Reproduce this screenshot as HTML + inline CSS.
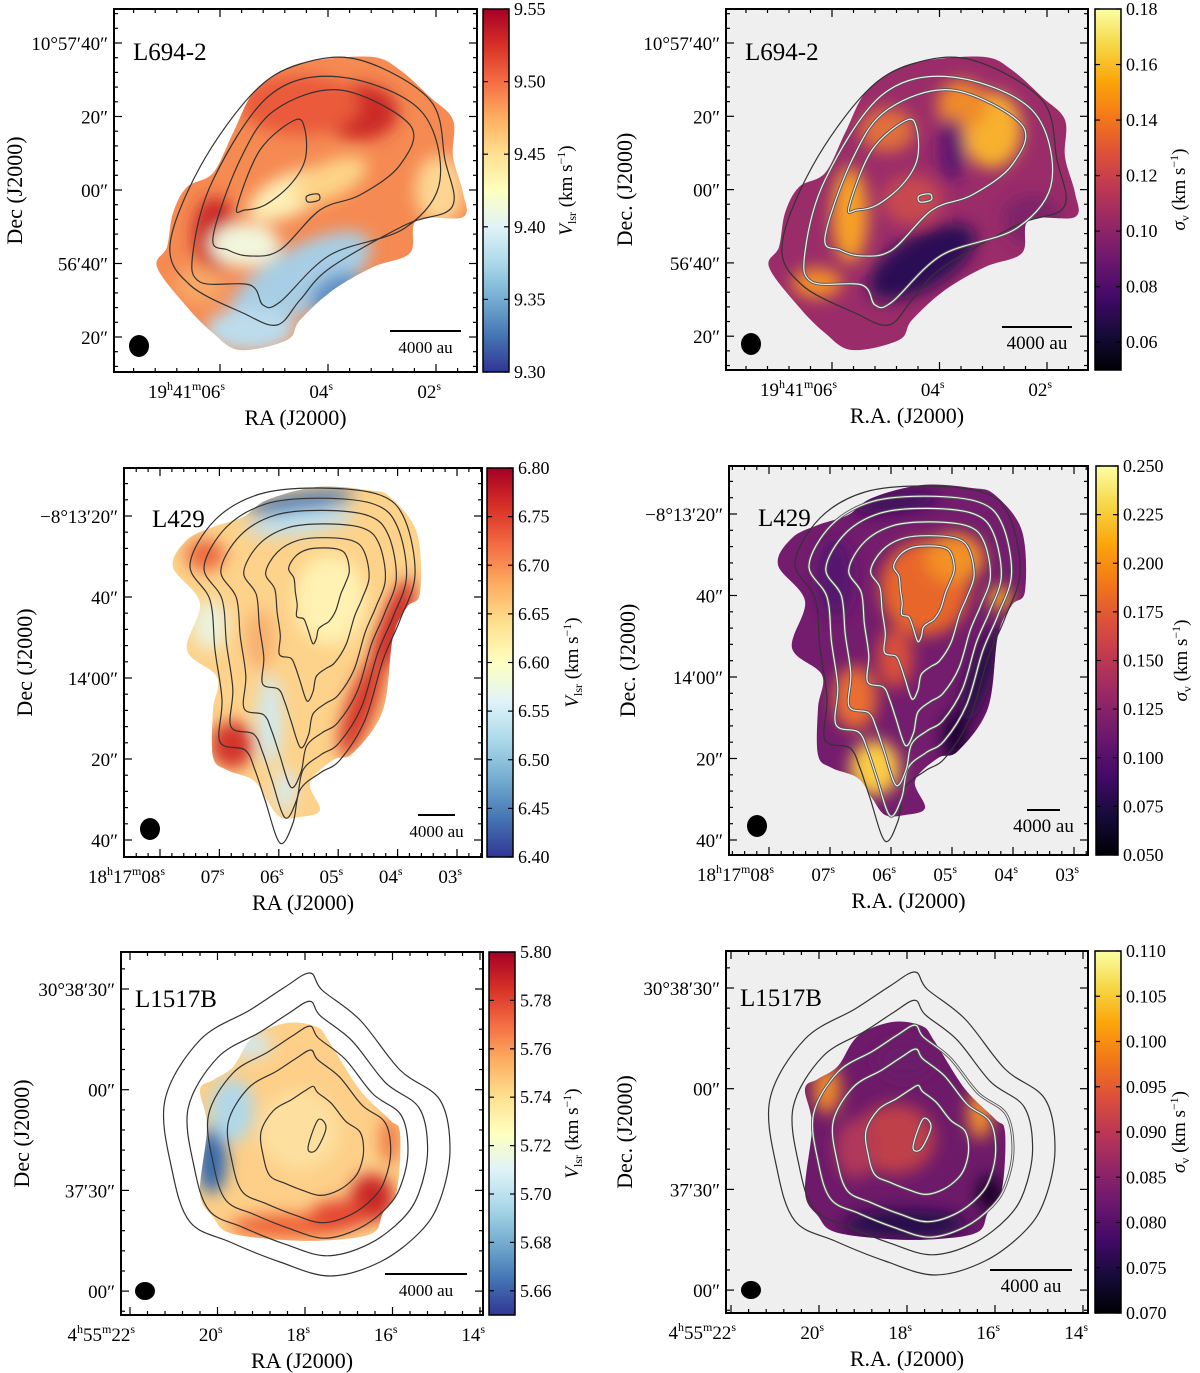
<!DOCTYPE html>
<html><head><meta charset="utf-8"><style>
html,body{margin:0;padding:0;background:#fff;}
svg{display:block;font-family:"Liberation Serif",serif;}
</style></head><body>
<svg id="fig" width="1200" height="1373" viewBox="0 0 1200 1373" xmlns="http://www.w3.org/2000/svg">
<defs>
<linearGradient id="rdylbu" x1="0" y1="1" x2="0" y2="0">
<stop offset="0" stop-color="#313695"/><stop offset="0.1" stop-color="#4575b4"/><stop offset="0.2" stop-color="#74add1"/><stop offset="0.3" stop-color="#abd9e9"/><stop offset="0.4" stop-color="#e0f3f8"/><stop offset="0.5" stop-color="#ffffbf"/><stop offset="0.6" stop-color="#fee090"/><stop offset="0.7" stop-color="#fdae61"/><stop offset="0.8" stop-color="#f46d43"/><stop offset="0.9" stop-color="#d73027"/><stop offset="1" stop-color="#a50026"/>
</linearGradient>
<linearGradient id="inferno" x1="0" y1="1" x2="0" y2="0">
<stop offset="0" stop-color="#000004"/><stop offset="0.1" stop-color="#160b39"/><stop offset="0.2" stop-color="#420a68"/><stop offset="0.3" stop-color="#6a176e"/><stop offset="0.4" stop-color="#932667"/><stop offset="0.5" stop-color="#bc3754"/><stop offset="0.6" stop-color="#dd513a"/><stop offset="0.7" stop-color="#f37819"/><stop offset="0.8" stop-color="#fca50a"/><stop offset="0.9" stop-color="#f6d746"/><stop offset="1" stop-color="#fcffa4"/>
</linearGradient>
<filter id="blur" x="-50%" y="-50%" width="200%" height="200%"><feGaussianBlur stdDeviation="8"/></filter>
</defs>
</svg>
<script>
// ---- colorbar data ----
const cbTicksL694V = [9.30, 9.35, 9.40, 9.45, 9.50, 9.55];
const cbRangeL694V = [9.30, 9.55];
const cbTicksL694S = [0.06, 0.08, 0.10, 0.12, 0.14, 0.16, 0.18];
const cbRangeL694S = [0.05, 0.18];
const cbTicksL429V = [6.40, 6.45, 6.50, 6.55, 6.60, 6.65, 6.70, 6.75, 6.80];
const cbRangeL429V = [6.40, 6.80];
const cbTicksL429S = [0.050, 0.075, 0.100, 0.125, 0.150, 0.175, 0.200, 0.225, 0.250];
const cbRangeL429S = [0.050, 0.250];
const cbTicksL1517V = [5.66, 5.68, 5.70, 5.72, 5.74, 5.76, 5.78, 5.80];
const cbRangeL1517V = [5.65, 5.80];
const cbTicksL1517S = [0.070, 0.075, 0.080, 0.085, 0.090, 0.095, 0.100, 0.105, 0.110];
const cbRangeL1517S = [0.070, 0.110];
// axis tick labels
const decLabelsL694 = ["10°57′40″","20″","00″","56′40″","20″"];
const raLabelsL694 = ["06","04","02"];
const decLabelsL429 = ["−8°13′20″","40″","14′00″","20″","40″"];
const raLabelsL429 = ["08","07","06","05","04","03"];
const decLabelsL1517 = ["30°38′30″","00″","37′30″","00″"];
const raLabelsL1517 = ["22","20","18","16","14"];

const NS="http://www.w3.org/2000/svg";
const svg=document.getElementById('fig');
function el(tag,attrs,parent,text){const e=document.createElementNS(NS,tag);for(const k in attrs)e.setAttribute(k,attrs[k]);if(text!==undefined)e.textContent=text;(parent||svg).appendChild(e);return e;}
function smooth(p){let d=`M${p[0][0]},${p[0][1]}`;const n=p.length;for(let i=0;i<n;i++){const p0=p[(i-1+n)%n],p1=p[i],p2=p[(i+1)%n],p3=p[(i+2)%n];const c1=[p1[0]+(p2[0]-p0[0])/6,p1[1]+(p2[1]-p0[1])/6],c2=[p2[0]-(p3[0]-p1[0])/6,p2[1]-(p3[1]-p1[1])/6];d+=`C${c1[0].toFixed(1)},${c1[1].toFixed(1)} ${c2[0].toFixed(1)},${c2[1].toFixed(1)} ${p2[0]},${p2[1]}`;}return d+'Z';}
function shift(p,dx,dy){return p.map(q=>[q[0]+dx,q[1]+dy]);}
function scaleP(p,c,s){return p.map(q=>[+(c[0]+(q[0]-c[0])*s).toFixed(1),+(c[1]+(q[1]-c[1])*s).toFixed(1)]);}

let clipId=0;
function drawMap(g,shape,base,blobs,dx,dy){
  const id='clip'+(clipId++);
  const cp=el('clipPath',{id:id},g);el('path',{d:smooth(shift(shape,dx,dy))},cp);
  const m=el('g',{'clip-path':`url(#${id})`},g);
  
  el('rect',{x:0,y:0,width:1200,height:1373,fill:base},m);
  const b=el('g',{filter:'url(#blur)'},m);
  blobs.forEach(o=>el('ellipse',{cx:o[0]+dx,cy:o[1]+dy,rx:o[2],ry:o[3],fill:o[4],transform:`rotate(${o[5]||0} ${o[0]+dx} ${o[1]+dy})`},b));
}
function drawContours(g,contours,dx,dy,right,nOuterDark){
  contours.forEach((c,i)=>{
    const d=smooth(shift(c,dx,dy));
    if(right && i>=nOuterDark){el('path',{d:d,fill:'none',stroke:'#555','stroke-width':3},g);el('path',{d:d,fill:'none',stroke:'#eee','stroke-width':1.2},g);}
    else el('path',{d:d,fill:'none',stroke:'#333','stroke-width':1.2},g);
  });
}
function panel(cfg){
  const g=el('g',{});
  
  
  const f=cfg.frame;
  el('rect',{x:f[0],y:f[1],width:f[2]-f[0],height:f[3]-f[1],fill:cfg.right?'#efefef':'#fff'},g);
  drawMap(g,cfg.shape,cfg.base,cfg.blobs,cfg.dx,cfg.dy);
  const cg=el('g',{},g);
  
  const cp=el('clipPath',{id:'fc'+clipId},g);el('rect',{x:f[0],y:f[1],width:f[2]-f[0],height:f[3]-f[1]},cp);
  cg.setAttribute('clip-path',`url(#fc${clipId++})`);
  drawContours(cg,cfg.contours,cfg.dx,cfg.dy,cfg.right,cfg.nOuter);
  const tg=el('g',{stroke:'#000','stroke-width':1.2},g);
  const yt=cfg.yTicks, xt=cfg.xTicks;
  const ys=(yt[1]-yt[0]), xs=(xt[1]-xt[0]);
  for(let k=-10;k<60;k++){const y=yt[0]+k*ys/5;if(y<=f[1]+1||y>=f[3]-1)continue;const L=k%5===0?8:4;
    el('line',{x1:f[0],x2:f[0]+L,y1:y,y2:y},tg);el('line',{x1:f[2],x2:f[2]-L,y1:y,y2:y},tg);}
  for(let k=-10;k<60;k++){const x=xt[0]+k*xs/5;if(x<=f[0]+1||x>=f[2]-1)continue;const L=k%5===0?8:4;
    el('line',{x1:x,x2:x,y1:f[3],y2:f[3]-L},tg);el('line',{x1:x,x2:x,y1:f[1],y2:f[1]+L},tg);}
  el('rect',{x:f[0],y:f[1],width:f[2]-f[0],height:f[3]-f[1],fill:'none',stroke:'#000','stroke-width':2},g);
  cfg.decLabels.forEach((t,i)=>{const e=el('text',{x:f[0]-6,y:yt[0]+i*ys+7,'text-anchor':'end','font-size':19},g,t);
    });
  cfg.raLabels.forEach((t,i)=>{const x=xt[0]+i*xs;const e=el('text',{x:x+5,y:f[3]+26,'text-anchor':'end','font-size':19},g);
    
    if(i===0){const h=cfg.raPrefix;el('tspan',{},e,h[0]);el('tspan',{dy:-8,'font-size':12},e,'h');el('tspan',{dy:8},e,h[1]);el('tspan',{dy:-8,'font-size':12},e,'m');el('tspan',{dy:8},e,t);el('tspan',{dy:-8,'font-size':12},e,'s');}
    else{el('tspan',{},e,t);el('tspan',{dy:-8,'font-size':12},e,'s');}});
  const xl=el('text',{x:(f[0]+f[2])/2,y:f[3]+53,'text-anchor':'middle','font-size':22},g,cfg.right?'R.A. (J2000)':'RA (J2000)');
  
  const ylx=f[0]-(cfg.right?94:92), yly=(f[1]+f[3])/2;
  const yl=el('text',{x:ylx,y:yly,'text-anchor':'middle','font-size':22,transform:`rotate(-90 ${ylx} ${yly})`},g,cfg.right?'Dec.  (J2000)':'Dec  (J2000)');
  
  const nm=el('text',{x:cfg.label[0],y:cfg.label[1],'font-size':25},g,cfg.title);
  
  const bm=el('ellipse',{cx:cfg.beam[0],cy:cfg.beam[1],rx:cfg.beam[2],ry:cfg.beam[3],fill:'#000'},g);
  
  const sb=el('line',{x1:cfg.bar[0],x2:cfg.bar[1],y1:cfg.bar[2],y2:cfg.bar[2],stroke:'#000','stroke-width':2},g);
  
  const st=el('text',{x:(cfg.bar[0]+cfg.bar[1])/2,y:cfg.bar[2]+22,'text-anchor':'middle','font-size':cfg.barFont||17},g,'4000 au');
  
  const c=cfg.cb;const cb=el('g',{},g);
  
  el('rect',{x:c[0],y:c[1],width:c[2]-c[0],height:c[3]-c[1],fill:cfg.right?'url(#inferno)':'url(#rdylbu)',stroke:'#000','stroke-width':1.5},cb);
  const [lo,hi]=cfg.cbRange;const sy=v=>c[3]-(v-lo)/(hi-lo)*(c[3]-c[1]);
  cfg.cbTicks.forEach(v=>{const y=sy(v);
    el('line',{x1:c[0],x2:c[0]+5,y1:y,y2:y,stroke:'#000','stroke-width':1.2},cb);el('line',{x1:c[2],x2:c[2]-5,y1:y,y2:y,stroke:'#000','stroke-width':1.2},cb);
    const t=el('text',{x:c[2]+5,y:y+6,'font-size':18},cb,v.toFixed(cfg.dec));
    });
  const tx=cfg.cbTitleX, ty=(c[1]+c[3])/2;
  const ct=el('text',{x:tx,y:ty,'text-anchor':'middle','font-size':19,transform:`rotate(-90 ${tx} ${ty})`},cb);
  
  if(cfg.right){el('tspan',{'font-style':'italic'},ct,'σ');el('tspan',{dy:4,'font-size':12},ct,'v');el('tspan',{dy:-4},ct,' (km s');}
  else{el('tspan',{'font-style':'italic'},ct,'V');el('tspan',{dy:4,'font-size':12},ct,'lsr');el('tspan',{dy:-4},ct,' (km s');}
  el('tspan',{dy:-7,'font-size':12},ct,'−1');el('tspan',{dy:7},ct,')');
}

const shape694=[[167,247],[173,213],[187,187],[213,173],[233,133],[253,93],[283,70],[317,60],[373,57],[400,70],[430,97],[453,120],[453,157],[463,193],[463,217],[417,220],[410,253],[373,267],[333,290],[300,320],[287,340],[240,350],[213,333],[187,307],[157,267]];
const cont694=[
 [[170,245],[200,167],[253,93],[300,64],[360,60],[430,100],[445,160],[452,207],[405,225],[330,268],[300,300],[277,325],[243,313],[190,285]],
 [[193,252],[213,180],[270,95],[340,77],[420,110],[440,180],[405,228],[330,255],[280,302],[263,305],[250,285],[200,282]],
 [[213,237],[240,160],[275,110],[340,90],[410,125],[400,165],[360,195],[320,210],[280,250],[250,256],[228,250]],
 [[237,207],[260,150],[295,120],[305,130],[305,160],[290,185],[265,205],[245,210]],
 [[307,196],[318,194],[319,200],[308,202]]];
const shape429=[[187,540],[173,567],[200,603],[187,650],[217,677],[213,710],[213,757],[227,770],[253,780],[267,800],[280,817],[300,817],[320,810],[310,783],[333,760],[353,753],[383,710],[393,637],[407,607],[420,593],[417,533],[390,497],[367,490],[317,487],[267,500],[243,517],[213,527]];
const out429=[[190,565],[215,520],[260,494],[320,488],[380,495],[405,520],[415,575],[400,620],[383,660],[365,720],[340,760],[320,773],[300,790],[293,823],[280,843],[265,800],[255,770],[245,750],[220,742],[222,700],[215,650],[210,600]];
const cont429=[out429,scaleP(out429,[330,590],0.9),scaleP(out429,[330,590],0.78),scaleP(out429,[335,585],0.63),scaleP(out429,[330,580],0.46),scaleP(out429,[325,570],0.27)];
const shape1517=[[200,1090],[207,1127],[200,1193],[213,1217],[230,1233],[283,1240],[333,1240],[373,1233],[383,1213],[397,1190],[400,1133],[390,1120],[360,1090],[330,1043],[317,1027],[287,1023],[253,1037],[233,1067],[213,1080]];
const out1517=[[165,1100],[200,1040],[250,1010],[285,987],[310,973],[322,990],[360,1020],[400,1070],[440,1100],[450,1150],[440,1200],[420,1232],[380,1262],[330,1276],[280,1262],[230,1242],[190,1222],[172,1170]];
const cont1517=[out1517,scaleP(out1517,[310,1150],0.84),scaleP(out1517,[310,1150],0.7),scaleP(out1517,[312,1152],0.57),scaleP(out1517,[315,1150],0.36),[[318,1120],[326,1128],[316,1150],[308,1148]]];

const panels=[
 {name:'panel-l694-vlsr',title:'L694-2',frame:[114,9,477,372],dx:0,dy:0,right:false,shape:shape694,base:'#f58a52',
  blobs:[[360,112,38,28,'#cc2a28'],[300,105,60,30,'#ea5a3a'],[215,235,22,38,'#c92626'],[290,195,45,20,'#fdf0b8',-25],[330,180,40,18,'#fdd486',-25],[440,190,25,35,'#fdd592'],[245,245,35,22,'#f2f6dc'],[300,280,80,32,'#a7cee4',-30],[335,292,28,16,'#5d8fc4',-30],[250,330,45,22,'#bcdcec'],[200,285,25,20,'#f7a868']],
  contours:cont694,nOuter:1,yTicks:[43,116.5],xTicks:[220,328],decLabels:decLabelsL694,raLabels:raLabelsL694,raPrefix:['19','41'],
  label:[133,60],beam:[139,346,10,11],bar:[390,461,331],cb:[483,9,509,372],cbTicks:cbTicksL694V,cbRange:cbRangeL694V,dec:2,cbTitleX:572},
 {name:'panel-l694-sigma',title:'L694-2',frame:[726,9,1088,370],dx:612,dy:0,right:true,shape:shape694,base:'#9a2c6a',
  blobs:[[380,130,30,38,'#f8b02e'],[350,105,25,25,'#ef8a2c'],[238,215,18,48,'#f7a028'],[205,283,25,15,'#f39026'],[275,130,28,22,'#e0703a'],[310,262,60,27,'#2a0a55',-30],[340,150,14,32,'#5e1370'],[420,220,30,25,'#7e2369'],[300,200,30,25,'#c84850']],
  contours:cont694,nOuter:1,yTicks:[43,116.3],xTicks:[832,939.5],decLabels:decLabelsL694,raLabels:raLabelsL694,raPrefix:['19','41'],
  label:[745,60],beam:[751,344,10,11],bar:[1002,1072,327],cb:[1095,9,1121,370],cbTicks:cbTicksL694S,cbRange:cbRangeL694S,dec:2,cbTitleX:1185,barFont:19},
 {name:'panel-l429-vlsr',title:'L429',frame:[124,468,482,857],dx:0,dy:0,right:false,shape:shape429,base:'#fdd28a',
  blobs:[[300,502,55,9,'#3f6fb0',-8],[300,522,55,12,'#bfe0ee',-8],[392,630,14,55,'#cf2a26',20],[362,705,15,55,'#d83a2c',20],[205,555,20,16,'#ec6a40'],[232,745,22,24,'#d3362a'],[270,720,12,45,'#d0eaf2'],[285,790,10,22,'#d5ecf3'],[330,600,35,45,'#fff2b2'],[210,625,18,25,'#eaf2dc'],[260,640,15,30,'#f7b070']],
  contours:cont429,nOuter:0,yTicks:[516,597],xTicks:[160,219.4],decLabels:decLabelsL429,raLabels:raLabelsL429,raPrefix:['18','17'],
  label:[152,527],beam:[150,829,10,11],bar:[418,455,815],cb:[487,468,513,857],cbTicks:cbTicksL429V,cbRange:cbRangeL429V,dec:2,cbTitleX:578},
 {name:'panel-l429-sigma',title:'L429',frame:[729,466,1088,855],dx:605,dy:-2,right:true,shape:shape429,base:'#741c6e',
  blobs:[[320,590,45,48,'#e8662c'],[350,560,30,25,'#f39025'],[395,600,12,12,'#f8a820'],[270,770,25,28,'#fbcc45'],[250,700,22,32,'#ea6e30'],[290,660,18,30,'#d8503a'],[375,680,12,55,'#260846',20],[350,740,12,25,'#140630'],[290,505,45,9,'#360a58',-8],[230,580,18,40,'#541270']],
  contours:cont429,nOuter:1,yTicks:[514,595.5],xTicks:[769,830],decLabels:decLabelsL429,raLabels:raLabelsL429,raPrefix:['18','17'],
  label:[758,526],beam:[757,826,10,11],bar:[1027,1060,810],cb:[1096,466,1118,855],cbTicks:cbTicksL429S,cbRange:cbRangeL429S,dec:3,cbTitleX:1187,barFont:19},
 {name:'panel-l1517b-vlsr',title:'L1517B',frame:[121,952,483,1315],dx:0,dy:0,right:false,shape:shape1517,base:'#fdcf88',
  blobs:[[212,1160,15,34,'#3569ad'],[232,1110,22,32,'#b0d8e9'],[250,1045,22,12,'#d0e9f2'],[372,1198,22,24,'#c92828'],[290,1226,60,12,'#ee6236'],[340,1215,30,15,'#e44630'],[300,1130,40,40,'#fde0a0'],[390,1140,10,25,'#f07a45']],
  contours:cont1517,nOuter:2,yTicks:[989,1089.7],xTicks:[130,217.5],decLabels:decLabelsL1517,raLabels:raLabelsL1517,raPrefix:['4','55'],
  label:[135,1007],beam:[145,1291,10,9],bar:[385,467,1274],cb:[489,952,515,1315],cbTicks:cbTicksL1517V,cbRange:cbRangeL1517V,dec:2,cbTitleX:578},
 {name:'panel-l1517b-sigma',title:'L1517B',frame:[726,951,1088,1313],dx:605,dy:-1,right:true,shape:shape1517,base:'#6e1a6a',
  blobs:[[290,1140,40,35,'#c0404a'],[222,1090,14,25,'#f08a2a'],[375,1115,12,25,'#f5922a'],[300,1225,62,14,'#22084a'],[385,1195,12,18,'#0e0420'],[250,1150,20,30,'#b0385a'],[300,1060,30,20,'#6a1a6a']],
  contours:cont1517,nOuter:2,yTicks:[988,1088.7],xTicks:[731,819],decLabels:decLabelsL1517,raLabels:raLabelsL1517,raPrefix:['4','55'],
  label:[740,1006],beam:[751,1290,10,9],bar:[990,1072,1270],cb:[1095,951,1121,1313],cbTicks:cbTicksL1517S,cbRange:cbRangeL1517S,dec:3,cbTitleX:1185,barFont:19}
];
panels.forEach(panel);
</script>
</body></html>
